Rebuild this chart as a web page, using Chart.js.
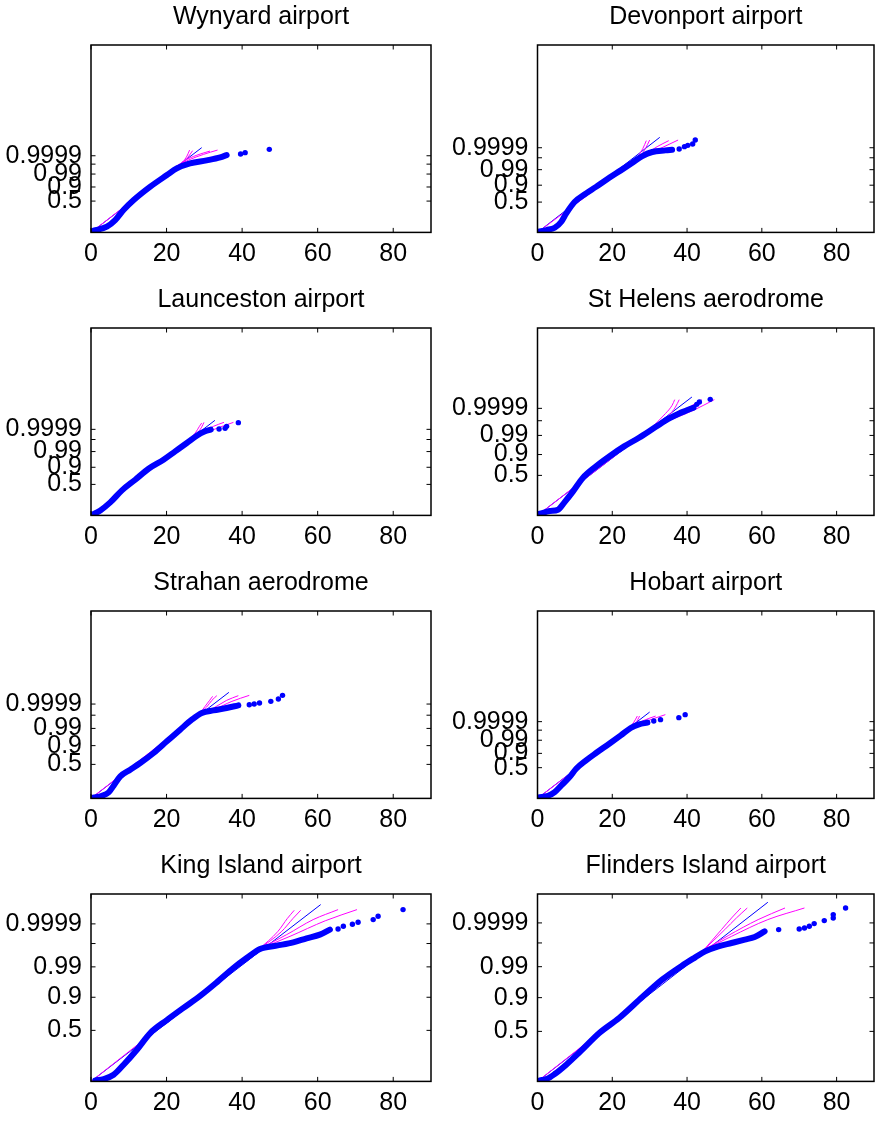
<!DOCTYPE html>
<html>
<head>
<meta charset="utf-8">
<script src="https://cdn.jsdelivr.net/npm/chart.js@4.4.0/dist/chart.umd.min.js"></script>
<style>
  html, body { margin: 0; padding: 0; background: #fff; }
  body { width: 878px; height: 1121px; position: relative; overflow: hidden; }
  canvas { position: absolute; }
</style>
</head>
<body>
<script>
const stationNames = ['Wynyard airport', 'Devonport airport', 'Launceston airport', 'St Helens aerodrome',
  'Strahan aerodrome', 'Hobart airport', 'King Island airport', 'Flinders Island airport'];

// y axis is the Rayleigh reduced variate sqrt(-ln(1-p)); x axis is wind speed
const probTicks = [0.5, 0.9, 0.99, 0.999, 0.9999];
const probTickLabels = ['0.5', '0.9', '0.99', '', '0.9999'];
const speedTicks = [0, 20, 40, 60, 80];
const speedRange = [0, 90];
const yBottom = [-0.689, -0.396, -0.408, -0.482, -0.409, -0.637, -0.223, -0.183];
const yTop = [8.417, 7.199, 7.09, 5.675, 6.432, 8.329, 3.653, 3.622];

// empirical points: dense body, sparse tail, straight fit, four tail fits (from the knee)
const wynyardBody = [[0.7,-0.606],[4.2,-0.412],[6.4,-0.091],[8.6,0.395],[11.3,0.881],[15.7,1.533],[20.1,2.097],[22.7,2.422],[26.2,2.665],[30.6,2.811],[34.2,2.957],[35.9,3.069]];
const wynyardTail = [[39.6,3.118],[40.8,3.186],[47.2,3.346]];
const wynyardFit = [[0,-0.689],[29.3,3.428]];
const wynyardTailFits = [
  [[22.5,2.505],[24.3,2.748],[25.4,3.020],[26.1,3.312]],
  [[22.5,2.505],[24.7,2.748],[25.9,3.020],[26.9,3.283]],
  [[22.5,2.505],[25.4,2.86],[28.9,3.118],[31.5,3.263]],
  [[22.5,2.505],[25.8,2.826],[29.8,3.103],[33.5,3.312]]];

const devonportBody = [[0.27,-0.369],[2.39,-0.301],[4.6,-0.207],[6.37,0.037],[7.69,0.374],[9.9,0.834],[13.0,1.186],[15.65,1.449],[19.19,1.814],[22.28,2.118],[25.38,2.429],[28.03,2.699],[30.68,2.862],[34.2,2.929],[36.0,2.956]];
const devonportTail = [[37.9,2.982],[39.3,3.079],[40.2,3.132],[41.5,3.185],[42.2,3.347]];
const devonportFit = [[0,-0.396],[32.7,3.456]];
const devonportTailFits = [
  [[25.8,2.511],[27.1,2.739],[28.2,3.010],[29.1,3.322]],
  [[25.8,2.511],[27.6,2.698],[28.9,3.010],[30.0,3.347]],
  [[25.8,2.511],[28.9,2.779],[32.0,3.079],[35.1,3.322]],
  [[25.8,2.511],[29.4,2.739],[32.9,3.010],[37.6,3.347]]];

const launcestonBody = [[0.26,-0.381],[2.47,-0.208],[5.1,0.112],[8.19,0.593],[11.71,1.020],[15.24,1.460],[19.2,1.821],[22.28,2.154],[25.36,2.488],[28.0,2.781],[30.2,2.955],[31.7,3.022]];
const launcestonTail = [[33.9,3.048],[35.5,3.075],[35.9,3.155],[39.0,3.302]];
const launcestonFit = [[0,-0.408],[32.8,3.395]];
const launcestonTailFits = [
  [[25.4,2.554],[27.6,2.887],[28.7,3.155],[29.3,3.287]],
  [[25.4,2.554],[28.0,2.862],[29.3,3.127],[29.9,3.315]],
  [[25.4,2.554],[28.9,2.862],[32.4,3.155],[35.2,3.315]],
  [[25.4,2.554],[29.8,2.862],[34.2,3.127],[37.7,3.315]]];

const stHelensBody = [[0.62,-0.427],[3.27,-0.340],[5.48,-0.296],[7.25,-0.044],[9.46,0.300],[12.11,0.750],[15.65,1.130],[19.19,1.455],[23.17,1.785],[27.14,2.070],[31.56,2.420],[35.1,2.696],[37.75,2.860],[39.96,2.970],[41.73,3.057]];
const stHelensTail = [[42.6,3.167],[43.3,3.243],[46.2,3.331]];
const stHelensFit = [[0,-0.482],[41.3,3.407]];
const stHelensTailFits = [
  [[30.7,2.421],[34.2,2.861],[36.0,3.134],[36.7,3.321]],
  [[30.7,2.421],[35.1,2.805],[36.9,3.078],[37.9,3.321]],
  [[30.7,2.421],[36.0,2.75],[40.4,3.058],[43.9,3.321]],
  [[30.7,2.421],[36.4,2.697],[41.7,2.970],[47.3,3.321]]];

const strahanBody = [[0.53,-0.385],[2.9,-0.311],[4.67,-0.190],[5.99,0.054],[7.75,0.395],[10.39,0.638],[13.03,0.881],[16.56,1.247],[20.08,1.673],[23.6,2.099],[26.68,2.464],[29.33,2.708],[32.4,2.805],[35.9,2.890],[39.0,2.988]];
const strahanTail = [[41.9,3.012],[43.2,3.036],[44.6,3.073],[47.6,3.134],[49.6,3.219],[50.7,3.353]];
const strahanFit = [[0,-0.409],[36.5,3.462]];
const strahanTailFits = [
  [[28.9,2.707],[30.2,2.951],[31.4,3.170],[32.2,3.316]],
  [[28.9,2.707],[30.6,2.926],[32.0,3.170],[33.3,3.341]],
  [[28.9,2.707],[32.4,2.889],[35.9,3.170],[39.0,3.341]],
  [[28.9,2.707],[32.8,2.853],[37.3,3.134],[41.9,3.353]]];

const hobartBody = [[0.27,-0.589],[2.83,-0.509],[4.6,-0.334],[6.37,-0.015],[8.58,0.384],[10.34,0.783],[13.0,1.182],[15.65,1.533],[19.19,1.980],[22.28,2.379],[24.93,2.730],[27.14,2.905],[29.4,2.987]];
const hobartTail = [[31.1,3.063],[32.9,3.130],[37.8,3.226],[39.5,3.370]];
const hobartFit = [[0,-0.637],[30.0,3.494]];
const hobartTailFits = [
  [[24.5,2.700],[25.8,3.016],[26.7,3.303]],
  [[24.5,2.700],[26.3,2.968],[27.3,3.303]],
  [[24.5,2.700],[28.0,3.063],[31.6,3.303]],
  [[24.5,2.700],[28.5,3.016],[34.2,3.370]]];

const kingBody = [[1.14,-0.202],[3.35,-0.175],[5.99,-0.085],[8.63,0.122],[12.15,0.432],[15.68,0.777],[20.08,1.046],[24.48,1.298],[28.89,1.546],[33.29,1.826],[37.69,2.122],[41.2,2.329],[44.74,2.516],[49.14,2.585],[53.54,2.654],[57.07,2.736],[60.59,2.812],[63.23,2.916]];
const kingTail = [[65.4,2.929],[66.8,2.985],[69.2,3.026],[70.7,3.068],[74.7,3.123],[76.0,3.192],[82.6,3.330]];
const kingFit = [[0,-0.223],[60.8,3.434]];
const kingTailFits = [
  [[44.5,2.515],[49.5,2.881],[52.0,3.150],[53.8,3.316]],
  [[44.5,2.515],[50.5,2.881],[53.5,3.150],[55.5,3.316]],
  [[44.5,2.515],[51.8,2.813],[58.8,3.123],[65.4,3.330]],
  [[44.5,2.515],[52.7,2.778],[62.0,3.099],[70.4,3.330]]];

const flindersBody = [[0.62,-0.163],[2.39,-0.136],[4.6,-0.034],[7.69,0.156],[11.23,0.406],[16.53,0.799],[21.84,1.104],[28.03,1.530],[33.33,1.883],[38.64,2.167],[42.18,2.336],[44.83,2.458],[48.36,2.560],[51.9,2.627],[55.44,2.695],[58.09,2.749],[60.74,2.864]];
const flindersTail = [[64.5,2.899],[70.0,2.911],[71.4,2.932],[72.7,2.966],[74.0,3.021],[76.7,3.082],[79.1,3.135],[79.1,3.204],[82.4,3.338]];
const flindersFit = [[0,-0.183],[61.6,3.454]];
const flindersTailFits = [
  [[44.4,2.479],[49.2,2.899],[51.9,3.135],[54.4,3.338]],
  [[44.4,2.479],[50.1,2.899],[53.2,3.135],[56.1,3.338]],
  [[44.4,2.479],[51.0,2.777],[59.0,3.102],[66.2,3.338]],
  [[44.4,2.479],[51.9,2.763],[61.6,3.102],[71.4,3.338]]];

const bodies = [wynyardBody, devonportBody, launcestonBody, stHelensBody, strahanBody, hobartBody, kingBody, flindersBody];
const tails = [wynyardTail, devonportTail, launcestonTail, stHelensTail, strahanTail, hobartTail, kingTail, flindersTail];
const fits = [wynyardFit, devonportFit, launcestonFit, stHelensFit, strahanFit, hobartFit, kingFit, flindersFit];
const tailFits = [wynyardTailFits, devonportTailFits, launcestonTailFits, stHelensTailFits, strahanTailFits, hobartTailFits, kingTailFits, flindersTailFits];

const rayleighVariate = p => Math.sqrt(-Math.log(1 - p));
const pts = arr => arr.map(([x, y]) => ({x, y}));

// page layout of the 4x2 grid
const colLeft = [0, 440];
const colWidth = [440, 438];
const yAxisWidth = [91, 97.5];
const rightPad = [9, 1];
const rowTop = [0, 282.7, 565.7, 849.3];
const cellHeight = 278;
const plotHeight = 187.4;

const BLUE = '#0000ff';
const MAGENTA = '#ff00ff';
Chart.defaults.font.family = "'Liberation Sans', Arial, Helvetica, sans-serif";
Chart.defaults.font.size = 25;
Chart.defaults.color = '#000';

// box around the axes with inward ticks on all four sides
const frameTicks = {
  id: 'frameTicks',
  afterDatasetsDraw(chart) {
    const {ctx, chartArea: a, scales} = chart;
    const len = 4.5;
    ctx.save();
    ctx.strokeStyle = '#000';
    ctx.lineWidth = 1;
    ctx.beginPath();
    scales.x.ticks.forEach(t => {
      const px = scales.x.getPixelForValue(t.value);
      ctx.moveTo(px, a.bottom); ctx.lineTo(px, a.bottom - len);
      ctx.moveTo(px, a.top); ctx.lineTo(px, a.top + len);
    });
    scales.y.ticks.forEach(t => {
      const py = scales.y.getPixelForValue(t.value);
      ctx.moveTo(a.left, py); ctx.lineTo(a.left + len, py);
      ctx.moveTo(a.right, py); ctx.lineTo(a.right - len, py);
    });
    ctx.stroke();
    ctx.lineWidth = 1.5;
    ctx.strokeRect(a.left, a.top, a.right - a.left, a.bottom - a.top);
    ctx.restore();
  }
};

stationNames.forEach((name, i) => {
  const col = i % 2;
  const row = Math.floor(i / 2);
  const canvas = document.createElement('canvas');
  canvas.width = colWidth[col];
  canvas.height = cellHeight;
  canvas.style.left = colLeft[col] + 'px';
  canvas.style.top = rowTop[row] + 'px';
  document.body.appendChild(canvas);

  const knee = tailFits[i][0][0];
  const datasets = [
    {data: pts(bodies[i]), showLine: true, borderColor: BLUE, borderWidth: 6, pointRadius: 0,
     borderCapStyle: 'round', borderJoinStyle: 'round', cubicInterpolationMode: 'monotone', order: 0},
    {data: pts(tails[i]), showLine: false, pointRadius: 2.7, backgroundColor: BLUE, borderWidth: 0, order: 0},
    ...tailFits[i].map(c => ({data: pts(c), showLine: true, borderColor: MAGENTA, borderWidth: 1,
      pointRadius: 0, cubicInterpolationMode: 'monotone', order: 1})),
    {data: pts([fits[i][0], knee]), showLine: true, borderColor: MAGENTA, borderWidth: 1, pointRadius: 0, order: 1},
    {data: pts(fits[i]), showLine: true, borderColor: BLUE, borderWidth: 1, pointRadius: 0, order: 2}
  ];

  new Chart(canvas.getContext('2d'), {
    type: 'scatter',
    data: {datasets},
    options: {
      responsive: false,
      maintainAspectRatio: false,
      animation: false,
      events: [],
      layout: {padding: {left: 0, right: rightPad[col], top: 0, bottom: 0}},
      plugins: {
        legend: {display: false},
        tooltip: {enabled: false},
        title: {display: true, text: name, fullSize: false, color: '#000',
          font: {size: 25, weight: 'normal'}, padding: {top: 1.7, bottom: 13.3}}
      },
      scales: {
        x: {
          type: 'linear', min: speedRange[0], max: speedRange[1],
          grid: {display: false, drawTicks: false}, border: {display: false},
          afterBuildTicks: s => { s.ticks = speedTicks.map(v => ({value: v})); },
          afterFit: s => { s.height = cellHeight - 45 - plotHeight; },
          ticks: {autoSkip: false, maxRotation: 0, minRotation: 0, padding: 7, callback: v => String(v)}
        },
        y: {
          type: 'linear', min: yBottom[i], max: yTop[i],
          grid: {display: false, drawTicks: false}, border: {display: false},
          afterBuildTicks: s => { s.ticks = probTicks.map(p => ({value: rayleighVariate(p)})); },
          afterFit: s => { s.width = yAxisWidth[col]; },
          ticks: {autoSkip: false, padding: 9, callback: (v, idx) => probTickLabels[idx]}
        }
      }
    },
    plugins: [frameTicks]
  });
});
</script>
</body>
</html>
